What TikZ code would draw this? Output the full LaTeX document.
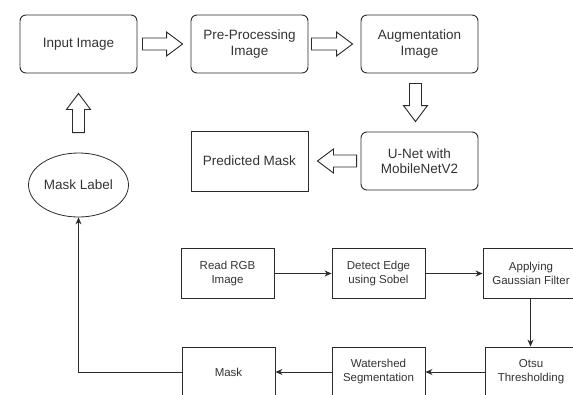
\documentclass[tikz,border=0pt]{standalone}
\usepackage{fontspec}
\setmainfont{Liberation Sans}
\usetikzlibrary{arrows.meta,calc,shapes.geometric}
\definecolor{ink}{HTML}{2B2B2B}
\definecolor{txt}{HTML}{333333}
\tikzset{
  bigtext/.style={font=\fontsize{13.5}{15.5}\selectfont, text=txt, align=center, inner sep=0pt},
  smalltext/.style={font=\fontsize{11.5}{14}\selectfont, text=txt, align=center, inner sep=0pt},
  roundbox/.style={bigtext, draw=ink, line width=0.9pt, rounded corners=6pt, minimum width=117pt, minimum height=58pt},
  plainbox/.style={bigtext, draw=ink, line width=0.9pt, minimum width=117pt, minimum height=60pt},
  stepbox/.style={smalltext, draw=ink, line width=0.9pt, minimum width=93pt, minimum height=50pt},
  labelell/.style={bigtext, ellipse, draw=ink, line width=0.8pt, minimum width=100pt, minimum height=64pt},
  conn/.style={draw=ink, line width=0.8pt, -{Stealth[length=7pt,width=6pt]}},
  flexline/.style={draw=ink, line width=0.9pt, line join=miter, fill=white}
}
\newcommand\hollowarrow[2]{%
  \coordinate (haS) at (#1);
  \coordinate (haT) at (#2);
  \coordinate (haH) at ($(haT)!16pt!(haS)$);
  \draw[flexline] ($(haS)!6pt!90:(haT)$) -- ($(haH)!6pt!-90:(haS)$) -- ($(haH)!12pt!-90:(haS)$)
    -- (haT) -- ($(haH)!12pt!90:(haS)$) -- ($(haH)!6pt!90:(haS)$) -- ($(haS)!6pt!-90:(haT)$) -- cycle;
}
\begin{document}
\begin{tikzpicture}[x=1pt,y=-1pt]
\useasboundingbox (0,0) rectangle (573,394);
\begin{scope}
\clip (0,14.6) rectangle (573,394);
% top row
\node[roundbox] (in) at (78.5,44) {Input Image};
\node[roundbox] (pre) at (249.5,44) {Pre-Processing\\Image};
\node[roundbox] (aug) at (419.5,44) {Augmentation\\Image};
% second row
\node[roundbox] (unet) at (419.5,161) {U-Net with\\MobileNetV2};
\node[plainbox] (pm) at (249.5,161) {Predicted Mask};
\node[labelell] (label) at (78.5,185) {Mask Label};
% hollow arrows
\hollowarrow{$(in.east)+(5,0)$}{$(pre.west)+(-8,0)$}
\hollowarrow{$(pre.east)+(3,0)$}{$(aug.west)+(-8,0)$}
\hollowarrow{$(aug.south)+(-4,10)$}{$(unet.north)+(-4,-10)$}
\hollowarrow{$(unet.west)+(-4,0)$}{$(pm.east)+(9,0)$}
\hollowarrow{$(label.north)+(0,-20)$}{$(in.south)+(0,20)$}
% lower pipeline
\node[stepbox] (rgb) at (227.5,273.5) {Read RGB\\Image};
\node[stepbox] (sobel) at (378.5,273.5) {Detect Edge\\using Sobel};
\node[stepbox, minimum width=100pt] (gauss) at (533,273.5) {\hspace*{-4pt}Applying\\\hspace*{-4pt}Gaussian Filter};
\node[stepbox, minimum width=100pt] (otsu) at (535,372) {\hspace*{-8pt}Otsu\\\hspace*{-8pt}Thresholding};
\node[stepbox] (water) at (378.5,372) {Watershed\\Segmentation};
\node[stepbox] (mask) at (228.5,372) {Mask};
\draw[conn] (rgb) -- (sobel);
\draw[conn] (sobel) -- (gauss);
\draw[conn] (gauss.south -| 530.5,0) -- (otsu.north -| 530.5,0);
\draw[conn] (otsu) -- (water);
\draw[conn] (water) -- (mask);
\draw[conn] (mask.west) -| (label.south);
\end{scope}
\end{tikzpicture}
\end{document}
